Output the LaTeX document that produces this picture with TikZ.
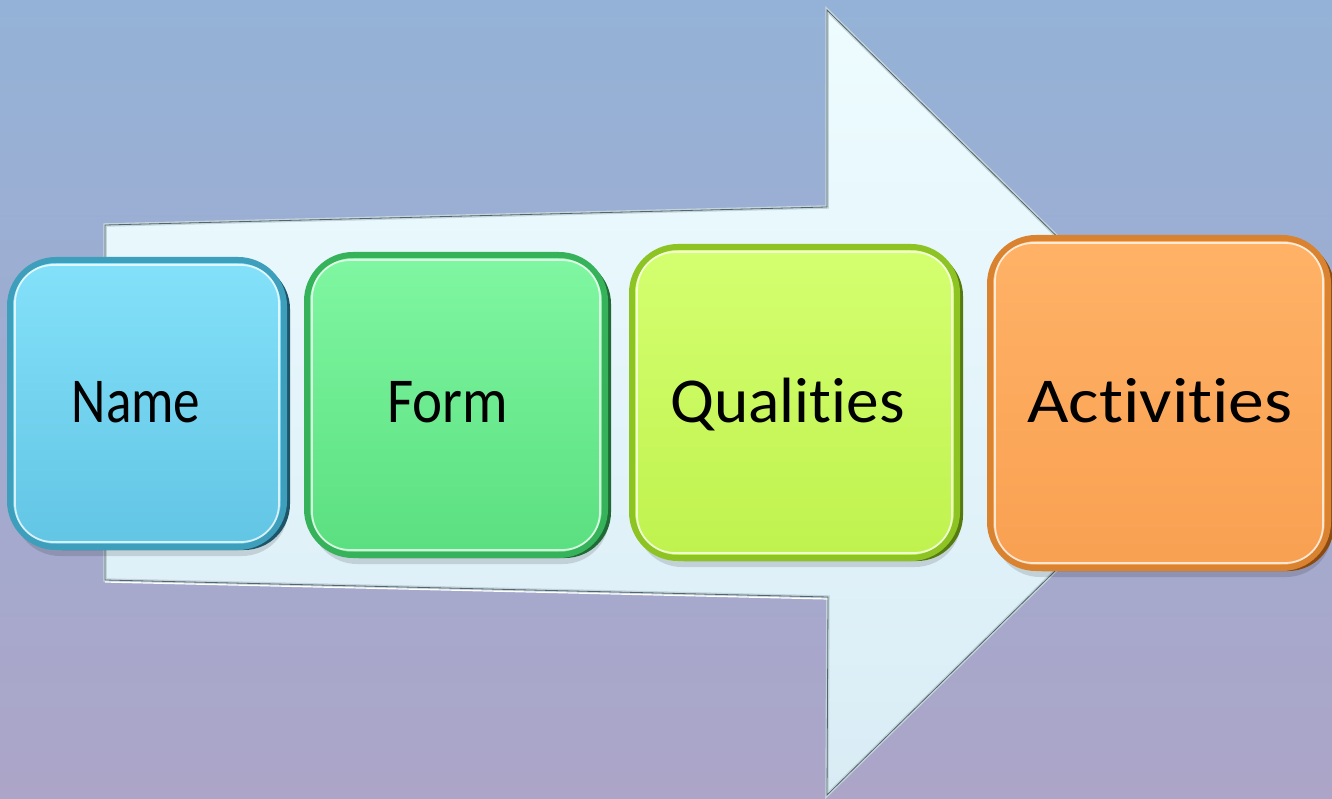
\documentclass[tikz,border=0pt]{standalone}
\usepackage{fontspec}
\setmainfont{Carlito}[Ligatures={NoCommon}]
\usetikzlibrary{calc}
\definecolor{bgtop}{HTML}{94B2D7}
\definecolor{bgbot}{HTML}{ACA5C8}
\definecolor{arrtop}{HTML}{EEFCFF}
\definecolor{arrbot}{HTML}{D9ECF5}
\definecolor{arredge}{HTML}{56646C}
\definecolor{arrbevel}{HTML}{C3D5DC}
% Name
\definecolor{nTop}{HTML}{84E1FA}
\definecolor{nBot}{HTML}{62C5E4}
\definecolor{nEdge}{HTML}{3E9FBC}
\definecolor{nDark}{HTML}{1D5467}
% Form
\definecolor{fTop}{HTML}{80F7A2}
\definecolor{fBot}{HTML}{5ADF80}
\definecolor{fEdge}{HTML}{35B25A}
\definecolor{fDark}{HTML}{1F6A35}
% Qualities
\definecolor{qTop}{HTML}{D4FF70}
\definecolor{qBot}{HTML}{BFF24E}
\definecolor{qEdge}{HTML}{8DC424}
\definecolor{qDark}{HTML}{557A10}
% Activities
\definecolor{aTop}{HTML}{FFB266}
\definecolor{aBot}{HTML}{F9A052}
\definecolor{aEdge}{HTML}{D9822F}
\definecolor{aDark}{HTML}{8A4A12}
\newcommand\mybox[9]{%
  \node[rounded corners=46pt, minimum width=#4pt, minimum height=#5pt, inner sep=0pt,
        fill=black, opacity=.13] (#1shadow) at (#2+4,#3+9) {};
  \node[rounded corners=46pt, minimum width=#4pt, minimum height=#5pt, inner sep=0pt,
        fill=#9] (#1side) at (#2+6,#3+3) {};
  \node[rounded corners=46pt, minimum width=#4pt, minimum height=#5pt, inner sep=0pt,
        top color=#6, bottom color=#7, draw=#8, line width=6pt] (#1) at (#2,#3) {};
  \draw[white, opacity=.75, line width=1.8pt, rounded corners=38pt]
    ($(#1.north west)+(8,8)$) rectangle ($(#1.south east)+(-8,-8)$);
}
\tikzset{lbl/.style={font=\fontsize{64}{70}\selectfont, anchor=base, inner sep=0pt, text=black}}
\begin{document}
\begin{tikzpicture}[x=1pt, y=-1pt]
\clip (0,0) rectangle (1332,799);
\shade[top color=bgtop, bottom color=bgbot] (0,0) rectangle (1332,799);
% big arrow
\coordinate (a1) at (105,225);
\coordinate (a2) at (827,207);
\coordinate (a3) at (827,10);
\coordinate (a4) at (1226,403);
\coordinate (a5) at (827,795);
\coordinate (a6) at (828,597);
\coordinate (a7) at (105,580);
\shade[top color=arrtop, bottom color=arrbot] (a1) -- (a2) -- (a3) -- (a4) -- (a5) -- (a6) -- (a7) -- cycle;
\draw[arrbevel, line width=3.5pt, line join=miter] (a1) -- (a2) -- (a3) -- (a4) -- (a5) -- (a6) -- (a7) -- cycle;
\draw[white, line width=1.2pt, line join=miter] ($(a6)+(0,2)$) -- ($(a7)+(0,2)$);
\draw[arredge, line width=0.8pt, line join=miter] (a1) -- (a2) -- (a3) -- (a4) -- (a5) -- (a6) -- (a7) -- cycle;
% boxes
\mybox{bname}{147}{403.5}{274}{287}{nTop}{nBot}{nEdge}{nDark}
\mybox{bform}{456}{405}{298}{300}{fTop}{fBot}{fEdge}{fDark}
\mybox{bqual}{794.5}{402.5}{325}{311}{qTop}{qBot}{qEdge}{qDark}
\mybox{bact}{1159}{403}{338}{330}{aTop}{aBot}{aEdge}{aDark}
% labels
\node[lbl] (tname) at (136,422) {\scalebox{0.83}[1]{Name}};
\node[lbl] (tform) at (447.5,422) {\scalebox{0.89}[1]{Form}};
\node[lbl] (tqual) at (787.5,422) {\scalebox{1.02}[1]{Qualities}};
\node[lbl] (tact) at (1160,422) {\scalebox{1.12}[1]{Activities}};
\end{tikzpicture}
\end{document}
